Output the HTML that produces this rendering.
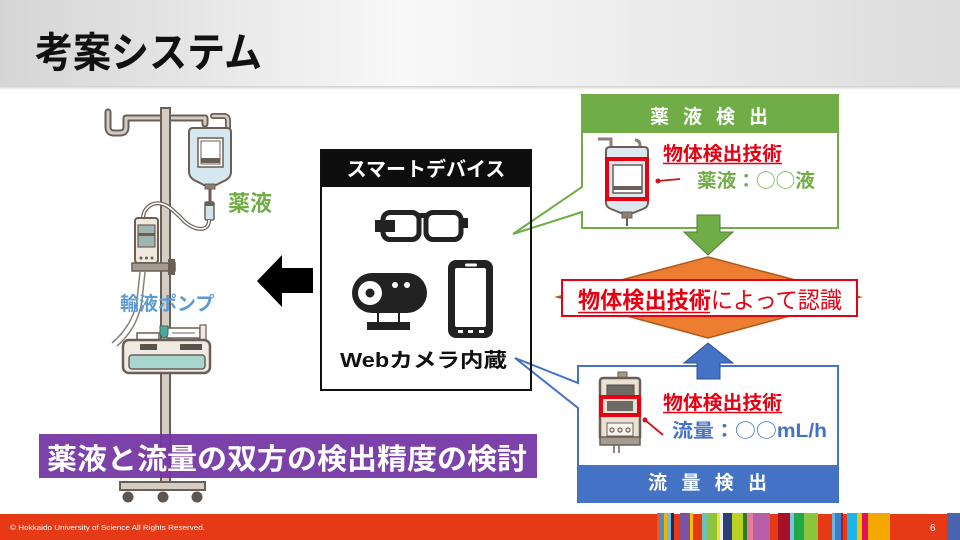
<!DOCTYPE html>
<html><head><meta charset="utf-8">
<style>
html,body{margin:0;padding:0;background:#fff;}
svg{display:block}
text{font-family:"Liberation Sans","Noto Sans CJK JP",sans-serif;}
.cj{font-family:"Noto Sans CJK JP",sans-serif;}
</style></head>
<body>
<svg width="960" height="540" viewBox="0 0 960 540" xmlns="http://www.w3.org/2000/svg">
<defs>
<linearGradient id="hg" x1="0" x2="1" y1="0" y2="0">
<stop offset="0" stop-color="#d5d5d5"/>
<stop offset="0.42" stop-color="#f8f8f8"/>
<stop offset="1" stop-color="#dcdcdc"/>
</linearGradient>
<linearGradient id="sh" x1="0" x2="0" y1="0" y2="1">
<stop offset="0" stop-color="#cfcfcf"/>
<stop offset="1" stop-color="#ffffff"/>
</linearGradient>
</defs>
<rect width="960" height="540" fill="#fff"/>
<!-- header -->
<rect x="0" y="0" width="960" height="86" fill="url(#hg)"/>
<rect x="0" y="86" width="960" height="4" fill="url(#sh)"/>
<text transform="translate(35,67) scale(1,1.12)" font-size="37" font-weight="700" textLength="227" lengthAdjust="spacingAndGlyphs" fill="#111">考案システム</text>

<!-- IV stand -->
<g stroke-linejoin="round" stroke-linecap="round" fill="none">
  <path d="M108,112 L108,127 Q108,133 114,133 L120,133 Q126,133 126,127 L126,118 L205,118 L205,124" stroke="#6b5e54" stroke-width="7"/>
  <path d="M108,112 L108,127 Q108,133 114,133 L120,133 Q126,133 126,127 L126,118 L205,118 L205,124" stroke="#d3cdc5" stroke-width="3"/>
  <path d="M213,116 L224,116 Q228,116 228,121 L228,130 Q227,135 221,133" stroke="#6b5e54" stroke-width="6"/>
  <path d="M213,116 L224,116 Q228,116 228,121 L228,130 Q227,135 221,133" stroke="#d3cdc5" stroke-width="2.5"/>
</g>
<rect x="161" y="108" width="9" height="378" fill="#d3cdc5" stroke="#6b5e54" stroke-width="2"/>
<!-- bag -->
<path d="M193,128 L227,128 Q231,128 231,132 L231,172 Q231,177 226,180 L216,185 L204,185 L194,180 Q189,177 189,172 L189,132 Q189,128 193,128 Z" fill="#d5e8ef" stroke="#6b5e54" stroke-width="2"/>
<rect x="198" y="138" width="25" height="29" fill="#fff" stroke="#6b5e54" stroke-width="1.5"/>
<rect x="201" y="141" width="19" height="23" fill="#fff" stroke="#6b5e54" stroke-width="1"/>
<rect x="201" y="158" width="19" height="5" fill="#6b5e54"/>
<rect x="205" y="184" width="10" height="5" fill="#8a8078" stroke="#6b5e54" stroke-width="1"/>
<line x1="210" y1="189" x2="210" y2="202" stroke="#6b5e54" stroke-width="3"/>
<rect x="205" y="202" width="9" height="18" rx="1.5" fill="#cfe6ee" stroke="#6b5e54" stroke-width="1.5"/>
<rect x="205" y="202" width="9" height="4" fill="#6b5e54"/>
<path d="M209,220 C209,233 194,230 185,222 C175,212 165,200 153,204 C146,207 143,212 143,219" fill="none" stroke="#6b5e54" stroke-width="4"/>
<path d="M209,220 C209,233 194,230 185,222 C175,212 165,200 153,204 C146,207 143,212 143,219" fill="none" stroke="#fff" stroke-width="1.6"/>
<!-- upper pump -->
<rect x="135" y="218" width="23" height="45" rx="3" fill="#efe9df" stroke="#6b5e54" stroke-width="2"/>
<rect x="138" y="225" width="17" height="22" fill="#9fb6ae" stroke="#6b5e54" stroke-width="1.2"/>
<rect x="138" y="233" width="17" height="3" fill="#6b5e54"/>
<circle cx="141" cy="258" r="1.5" fill="#6b5e54"/>
<circle cx="146.5" cy="258" r="1.5" fill="#6b5e54"/>
<circle cx="152" cy="258" r="1.5" fill="#6b5e54"/>
<rect x="132" y="263" width="43" height="8" fill="#a39a90" stroke="#6b5e54" stroke-width="1.5"/>
<rect x="168" y="259" width="7" height="16" fill="#6b5e54"/>
<path d="M140,272 L137,300 Q133,325 112,343" fill="none" stroke="#8a8078" stroke-width="1.5"/>
<path d="M145,272 L142,300 Q138,328 117,346" fill="none" stroke="#8a8078" stroke-width="1.5"/>
<!-- lower syringe pump -->
<rect x="137" y="333" width="22" height="8" fill="#fff" stroke="#6b5e54" stroke-width="1.5"/>
<rect x="167" y="328" width="33" height="10" fill="#fff" stroke="#6b5e54" stroke-width="1.5"/>
<line x1="172" y1="333" x2="195" y2="333" stroke="#6b5e54" stroke-width="1"/>
<rect x="200" y="325" width="6" height="15" fill="#efe9df" stroke="#6b5e54" stroke-width="1.2"/>
<path d="M160,326 L168,326 L168,334 Q164,342 160,334 Z" fill="#4fa89a" stroke="#3e6b64" stroke-width="1"/>
<rect x="123" y="340" width="87" height="33" rx="6" fill="#f0ebe2" stroke="#6b5e54" stroke-width="2.5"/>
<rect x="140" y="344" width="17" height="6" fill="#5a524c"/>
<rect x="180" y="344" width="22" height="6" fill="#5a524c"/>
<rect x="129" y="355" width="76" height="14" rx="3" fill="#a8d6cf" stroke="#6b5e54" stroke-width="1.5"/>
<!-- base -->
<rect x="120" y="482" width="85" height="8" fill="#d3cdc5" stroke="#6b5e54" stroke-width="2"/>
<g fill="#5e5650">
<circle cx="128" cy="497" r="5.5"/><circle cx="163" cy="497" r="5.5"/><circle cx="197" cy="497" r="5.5"/>
</g>
<text x="228" y="211" font-size="22" font-weight="700" fill="#70ad47">薬液</text>
<text x="120" y="310" font-size="19" font-weight="700" fill="#5b9bd5">輸液ポンプ</text>

<!-- purple banner -->
<rect x="39" y="434" width="498" height="44" fill="#7334a3" opacity="0.93"/>
<text x="47" y="469" font-size="29" font-weight="700" fill="#fff" textLength="480" lengthAdjust="spacingAndGlyphs">薬液と流量の双方の検出精度の検討</text>

<!-- black arrow -->
<path d="M257,281 L282,255 L282,268 L313,268 L313,293 L282,293 L282,307 Z" fill="#000"/>

<!-- center device box -->
<rect x="321" y="150" width="210" height="240" fill="#fff"/>
<rect x="321" y="150" width="210" height="37" fill="#0d0d0d"/>
<text x="426" y="176" font-size="20" font-weight="700" fill="#fff" text-anchor="middle">スマートデバイス</text>
<!-- glasses -->
<rect x="383" y="212.5" width="36" height="27" rx="7" fill="none" stroke="#222" stroke-width="5"/>
<rect x="426" y="212.5" width="35" height="27" rx="7" fill="none" stroke="#222" stroke-width="5"/>
<rect x="417" y="213" width="11" height="5" fill="#222"/>
<rect x="375" y="220" width="20" height="12" fill="#222"/>
<rect x="461" y="218" width="7" height="10" fill="#222"/>
<!-- webcam -->
<rect x="352" y="273" width="75" height="40" rx="20" fill="#222"/>
<circle cx="370" cy="293" r="12" fill="#fff"/>
<circle cx="370" cy="293" r="4.5" fill="#222"/>
<circle cx="395" cy="285" r="3" fill="#fff"/>
<circle cx="407" cy="285" r="3" fill="#fff"/>
<rect x="377" y="313" width="2" height="9" fill="#222"/>
<rect x="398" y="313" width="2" height="9" fill="#222"/>
<rect x="367" y="322" width="43" height="8" fill="#222"/>
<!-- phone -->
<rect x="448" y="260" width="45" height="78" rx="8" fill="#222"/>
<rect x="455" y="268" width="31" height="59" rx="2" fill="#fff"/>
<rect x="465" y="263.5" width="12" height="3" rx="1.5" fill="#fff"/>
<rect x="458" y="330" width="5" height="3" fill="#fff"/>
<rect x="468" y="330" width="5" height="3" fill="#fff"/>
<rect x="479" y="330" width="5" height="3" fill="#fff"/>
<text x="340" y="367" font-size="20" font-weight="700" fill="#111" textLength="167" lengthAdjust="spacingAndGlyphs">Webカメラ内蔵</text>

<!-- green callout -->
<path d="M582,95 H838 V228 H582 V212 L513,234 L582,187 Z" fill="#fff" stroke="#70ad47" stroke-width="2"/>
<rect x="582" y="95" width="256" height="38" fill="#70ad47"/>
<text x="650" y="123" font-size="19" font-weight="700" fill="#fff" textLength="118" lengthAdjust="spacing">薬 液 検 出</text>
<!-- bag icon -->
<path d="M598,139 L611,139 L611,150" fill="none" stroke="#8a8078" stroke-width="3"/>
<path d="M635,140 Q640,140 640,146 L640,154 Q638,158 634,156" fill="none" stroke="#8a8078" stroke-width="3"/>
<path d="M610,147 L644,147 Q648,147 648,151 L648,203 Q648,207 643,209 L633,213 L621,213 L611,209 Q606,207 606,203 L606,151 Q606,147 610,147 Z" fill="#dbe9ef" stroke="#6b5e54" stroke-width="2"/>
<rect x="622" y="212" width="10" height="6" fill="#8a8078" stroke="#6b5e54" stroke-width="1"/>
<line x1="627" y1="218" x2="627" y2="226" stroke="#6b5e54" stroke-width="2"/>
<rect x="613" y="165" width="29" height="28" fill="#fff" stroke="#6b5e54" stroke-width="1.5"/>
<rect x="613" y="186" width="29" height="4" fill="#6b5e54"/>
<rect x="607" y="159" width="40" height="40" fill="none" stroke="#e60012" stroke-width="4"/>
<circle cx="658" cy="181" r="2.5" fill="#d0101e"/>
<line x1="658" y1="181" x2="680" y2="179" stroke="#d0101e" stroke-width="1.8"/>
<text x="663" y="160" font-size="19" font-weight="700" fill="#e60012" textLength="119" lengthAdjust="spacingAndGlyphs">物体検出技術</text>
<line x1="663" y1="163.5" x2="782" y2="163.5" stroke="#e60012" stroke-width="1.5"/>
<text x="697" y="187" font-size="19" font-weight="700" fill="#70ad47" textLength="118" lengthAdjust="spacingAndGlyphs">薬液：<tspan class="cj" font-weight="400">○○</tspan>液</text>
<!-- green arrow -->
<path d="M697,215 H720 V232 H733 L708,255 L684,232 H697 Z" fill="#70ad47" stroke="#507e32" stroke-width="1"/>

<!-- diamond -->
<polygon points="708,257 860,297 708,338 557,297" fill="#ed7d31" stroke="#b05a1e" stroke-width="1.5"/>
<rect x="562" y="280" width="295" height="36" fill="#fff" stroke="#e60012" stroke-width="2"/>
<text x="578" y="308" font-size="23" fill="#e60012" textLength="264" lengthAdjust="spacingAndGlyphs"><tspan font-weight="700">物体検出技術</tspan><tspan>によって認識</tspan></text>
<line x1="578" y1="312.5" x2="710" y2="312.5" stroke="#e60012" stroke-width="1.6"/>

<!-- blue callout -->
<path d="M578,366 H838 V502 H578 V408 L515,358 L578,383 Z" fill="#fff" stroke="#4472c4" stroke-width="2"/>
<rect x="578" y="465" width="260" height="37" fill="#4472c4"/>
<text x="648" y="489" font-size="19" font-weight="700" fill="#fff" textLength="119" lengthAdjust="spacing">流 量 検 出</text>
<!-- blue arrow -->
<path d="M708,343 L733,363 H720 V379 H697 V363 H684 Z" fill="#4472c4" stroke="#2f528f" stroke-width="1"/>
<!-- pump icon -->
<rect x="618" y="372" width="9" height="7" fill="#a39a90" stroke="#6b5e54" stroke-width="1"/>
<rect x="600" y="378" width="40" height="62" rx="3" fill="#e9e1d3" stroke="#6b5e54" stroke-width="2.5"/>
<rect x="607" y="385" width="27" height="11" fill="#6d6a66" stroke="#4e4a46" stroke-width="1"/>
<rect x="607" y="401" width="26" height="10" fill="#6d6a66"/>
<rect x="601" y="397" width="38" height="18" fill="none" stroke="#e60012" stroke-width="4"/>
<rect x="607" y="423" width="26" height="13" fill="#f7f3ec" stroke="#6b5e54" stroke-width="1"/>
<circle cx="612" cy="430" r="2" fill="none" stroke="#6b5e54" stroke-width="1.2"/>
<circle cx="620" cy="430" r="2" fill="none" stroke="#6b5e54" stroke-width="1.2"/>
<circle cx="628" cy="430" r="2" fill="none" stroke="#6b5e54" stroke-width="1.2"/>
<rect x="600" y="437" width="40" height="8" fill="#a39a90" stroke="#6b5e54" stroke-width="1.5"/>
<line x1="614" y1="445" x2="614" y2="453" stroke="#6b5e54" stroke-width="1.5"/>
<line x1="619" y1="445" x2="619" y2="453" stroke="#6b5e54" stroke-width="1.5"/>
<circle cx="645" cy="420" r="2.5" fill="#d0101e"/>
<line x1="645" y1="420" x2="663" y2="435" stroke="#d0101e" stroke-width="1.8"/>
<text x="663" y="409" font-size="19" font-weight="700" fill="#e60012" textLength="119" lengthAdjust="spacingAndGlyphs">物体検出技術</text>
<line x1="663" y1="412.5" x2="782" y2="412.5" stroke="#e60012" stroke-width="1.5"/>
<text x="672" y="437" font-size="19" font-weight="700" fill="#4472c4" textLength="155" lengthAdjust="spacingAndGlyphs">流量：<tspan class="cj" font-weight="400">○○</tspan>mL/h</text>

<!-- center box border on top -->
<rect x="321" y="150" width="210" height="240" fill="none" stroke="#111" stroke-width="2"/>

<!-- footer -->
<rect x="0" y="514" width="960" height="26" fill="#e63a17"/>
<g>
<rect x="657" y="513" width="3" height="27" fill="#ec5a22"/>
<rect x="660" y="513" width="4" height="27" fill="#4a8fc0"/>
<rect x="664" y="513" width="3" height="27" fill="#f0b400"/>
<rect x="667" y="513" width="4" height="27" fill="#7ab8d8"/>
<rect x="671" y="513" width="3" height="27" fill="#1e2a5a"/>
<rect x="680" y="513" width="10" height="27" fill="#7a52a0"/>
<rect x="690" y="513" width="3" height="27" fill="#f5c000"/>
<rect x="702" y="513" width="5" height="27" fill="#6cc0b8"/>
<rect x="707" y="513" width="10" height="27" fill="#8cc43c"/>
<rect x="717" y="513" width="3" height="27" fill="#f0e81e"/>
<rect x="720" y="513" width="3" height="27" fill="#eeeeee"/>
<rect x="723" y="513" width="9" height="27" fill="#2d3e78"/>
<rect x="732" y="513" width="11" height="27" fill="#b9d31e"/>
<rect x="743" y="513" width="4" height="27" fill="#2c7a2c"/>
<rect x="747" y="513" width="6" height="27" fill="#e97a9a"/>
<rect x="753" y="513" width="17" height="27" fill="#b65fa8"/>
<rect x="778" y="513" width="12" height="27" fill="#a8102a"/>
<rect x="790" y="513" width="4" height="27" fill="#7ac4e8"/>
<rect x="794" y="513" width="10" height="27" fill="#20a84a"/>
<rect x="804" y="513" width="14" height="27" fill="#8cc43c"/>
<rect x="832" y="513" width="3" height="27" fill="#6ab4e0"/>
<rect x="835" y="513" width="6" height="27" fill="#3a80c8"/>
<rect x="841" y="513" width="2" height="27" fill="#b01830"/>
<rect x="847" y="513" width="10" height="27" fill="#1eb4e8"/>
<rect x="857" y="513" width="5" height="27" fill="#f5c000"/>
<rect x="862" y="513" width="6" height="27" fill="#e0105a"/>
<rect x="868" y="513" width="22" height="27" fill="#f5a800"/>
<rect x="947" y="513" width="13" height="27" fill="#4a64b0"/>
</g>
<text x="10" y="530" font-size="7" fill="#fff" textLength="195" lengthAdjust="spacingAndGlyphs">© Hokkaido University of Science  All Rights Reserved.</text>
<text x="930" y="531" font-size="10" fill="#fff">6</text>
</svg>
</body></html>
